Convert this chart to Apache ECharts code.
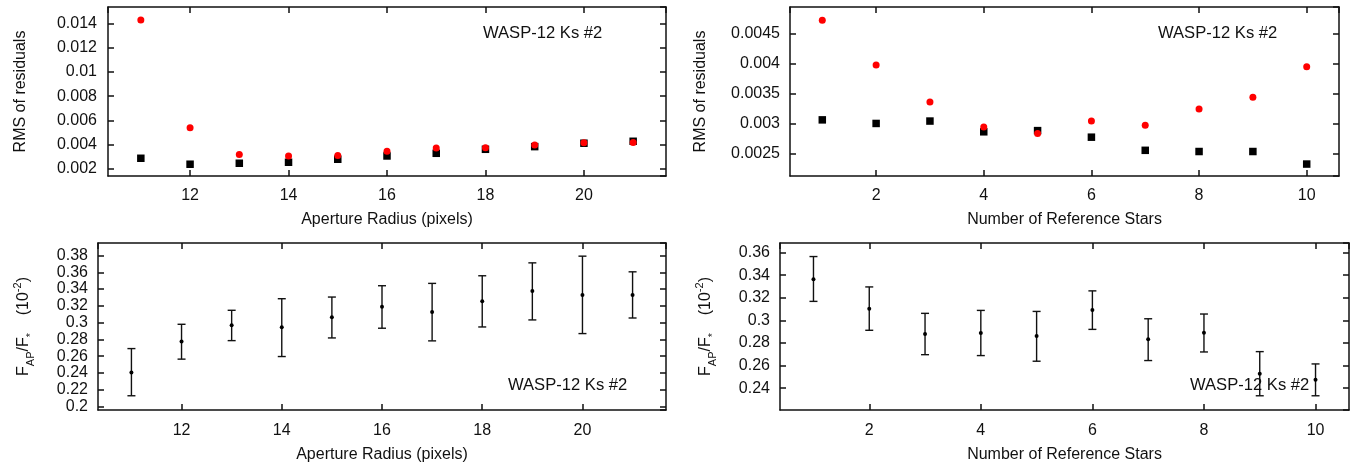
<!DOCTYPE html>
<html>
<head>
<meta charset="utf-8">
<script src="https://cdn.jsdelivr.net/npm/echarts@6/dist/echarts.min.js"></script>
<style>
html,body{margin:0;padding:0;background:#fff;}
#c{width:1351px;height:465px;}
</style>
</head>
<body>
<div id="c"></div>
<script>
// ---- data ----
var apertureRadius = [11, 12, 13, 14, 15, 16, 17, 18, 19, 20, 21];
var rmsApRed   = [0.01427, 0.0054, 0.0032, 0.00307, 0.0031, 0.00345, 0.00372, 0.00375, 0.00397, 0.00415, 0.00417];
var rmsApBlack = [0.00288, 0.00239, 0.00247, 0.00255, 0.0028, 0.00307, 0.00329, 0.00362, 0.00384, 0.00412, 0.00428];

var refStars = [1, 2, 3, 4, 5, 6, 7, 8, 9, 10];
var rmsRefRed   = [0.00473, 0.00398, 0.00336, 0.00294, 0.00283, 0.00304, 0.00297, 0.00324, 0.00344, 0.00395];
var rmsRefBlack = [0.00306, 0.0030, 0.00304, 0.00286, 0.00288, 0.00277, 0.00255, 0.00253, 0.00253, 0.00232];

var fluxAp     = [0.2405, 0.2773, 0.2968, 0.2945, 0.3064, 0.319, 0.3127, 0.3254, 0.3377, 0.3329, 0.3329];
var fluxApLow  = [0.2127, 0.2564, 0.2785, 0.2595, 0.2817, 0.2933, 0.2782, 0.2948, 0.3032, 0.2869, 0.3055];
var fluxApHigh = [0.269, 0.298, 0.3147, 0.3285, 0.3305, 0.344, 0.3468, 0.3559, 0.3713, 0.3793, 0.3606];

var fluxRef     = [0.3364, 0.3102, 0.2879, 0.2888, 0.2861, 0.3091, 0.2832, 0.289, 0.2526, 0.2473];
var fluxRefLow  = [0.3168, 0.2912, 0.2696, 0.2688, 0.2638, 0.292, 0.2644, 0.272, 0.2332, 0.2332];
var fluxRefHigh = [0.3565, 0.3296, 0.3062, 0.3088, 0.3079, 0.3261, 0.3014, 0.3056, 0.2723, 0.2614];

var xTitleAp = 'Aperture Radius (pixels)';
var xTitleRef = 'Number of Reference Stars';
var yTitleRms = 'RMS of residuals';
var panelLabel = 'WASP-12 Ks #2';

// ---- chart ----
var FONT = '"Liberation Sans", Arial, Helvetica, sans-serif';
var TXT = '#111';
var chart = echarts.init(document.getElementById('c'), null, {renderer: 'canvas'});

function zip(xs, ys) { return xs.map(function (x, i) { return [x, ys[i]]; }); }
function zipErr(xs, c, lo, hi) { return xs.map(function (x, i) { return [x, c[i], lo[i], hi[i]]; }); }

var lineStyle = {color: '#111', width: 1.5};

function xAxisPair(grid, min, max, split, name, gap, margin) {
  return [{
    gridIndex: grid, type: 'value', position: 'bottom', min: min, max: max, splitNumber: split,
    axisLine: {show: true, onZero: false, lineStyle: lineStyle},
    axisTick: {show: true, inside: true, length: 6, lineStyle: lineStyle},
    axisLabel: {show: true, margin: margin, color: TXT, fontSize: 16, fontFamily: FONT, showMinLabel: false, showMaxLabel: false},
    splitLine: {show: false},
    name: name, nameLocation: 'middle', nameGap: gap,
    nameTextStyle: {color: TXT, fontSize: 16, fontFamily: FONT}
  }, {
    gridIndex: grid, type: 'value', position: 'top', min: min, max: max, splitNumber: split,
    axisLine: {show: true, onZero: false, lineStyle: lineStyle},
    axisTick: {show: true, inside: true, length: 6, lineStyle: lineStyle},
    axisLabel: {show: false},
    splitLine: {show: false}
  }];
}

function yAxisPair(grid, min, max, split, name, gap, rich, margin) {
  var left = {
    gridIndex: grid, type: 'value', position: 'left', min: min, max: max, splitNumber: split,
    axisLine: {show: true, onZero: false, lineStyle: lineStyle},
    axisTick: {show: true, inside: true, length: 6, lineStyle: lineStyle},
    axisLabel: {show: true, margin: margin, color: TXT, fontSize: 16, fontFamily: FONT, showMinLabel: false, showMaxLabel: false},
    splitLine: {show: false},
    name: name, nameLocation: 'middle', nameGap: gap, nameRotate: 90,
    nameTextStyle: {color: TXT, fontSize: 16, fontFamily: FONT}
  };
  if (rich) left.nameTextStyle.rich = rich;
  return [left, {
    gridIndex: grid, type: 'value', position: 'right', min: min, max: max, splitNumber: split,
    axisLine: {show: true, onZero: false, lineStyle: lineStyle},
    axisTick: {show: true, inside: true, length: 6, lineStyle: lineStyle},
    axisLabel: {show: false},
    splitLine: {show: false}
  }];
}

var fluxRich = {
  n: {fontSize: 16, fontFamily: FONT, color: TXT, lineHeight: 24, verticalAlign: 'middle'},
  sub: {fontSize: 11, fontFamily: FONT, color: TXT, lineHeight: 11, verticalAlign: 'bottom'},
  sup: {fontSize: 11, fontFamily: FONT, color: TXT, lineHeight: 11, verticalAlign: 'top'}
};
var fluxName = '{n|F}{sub|AP}{n|/F}{sub|*}{n|    (10}{sup|-2}{n|)}';

var xAxes = [].concat(
  xAxisPair(0, 10.333, 21.667, 6, xTitleAp, 36, 12),
  xAxisPair(1, 0.4, 10.6, 5, xTitleRef, 36, 12),
  xAxisPair(2, 10.333, 21.667, 6, xTitleAp, 37, 13),
  xAxisPair(3, 0.4, 10.6, 5, xTitleRef, 37, 13)
);
var yAxes = [].concat(
  yAxisPair(0, 0.00142, 0.01534, 7, yTitleRms, 79, null, 11),
  yAxisPair(1, 0.00212, 0.00495, 6, yTitleRms, 81, null, 10),
  yAxisPair(2, 0.1957, 0.395, 10, fluxName, 62, fluxRich, 10),
  yAxisPair(3, 0.2206, 0.3685, 7, fluxName, 62, fluxRich, 10)
);

function errRender(params, api) {
  var x = api.value(0);
  var c = api.coord([x, api.value(1)]);
  var lo = api.coord([x, api.value(2)]);
  var hi = api.coord([x, api.value(3)]);
  var hw = 4;
  var st = {stroke: '#111', lineWidth: 1.4};
  return {
    type: 'group',
    children: [
      {type: 'line', shape: {x1: lo[0], y1: lo[1], x2: hi[0], y2: hi[1]}, style: st},
      {type: 'line', shape: {x1: lo[0] - hw, y1: lo[1], x2: lo[0] + hw, y2: lo[1]}, style: st},
      {type: 'line', shape: {x1: hi[0] - hw, y1: hi[1], x2: hi[0] + hw, y2: hi[1]}, style: st},
      {type: 'circle', shape: {cx: c[0], cy: c[1], r: 2}, style: {fill: '#000'}}
    ]
  };
}

function panelText(x, y) {
  return {type: 'text', x: x, y: y, z: 10,
    style: {text: panelLabel, fill: TXT, font: '16.6px ' + FONT, align: 'left', verticalAlign: 'middle'}};
}

var option = {
  animation: false,
  backgroundColor: '#fff',
  grid: [
    {left: 108, top: 7, width: 558, height: 169, outerBoundsMode: 'none'},
    {left: 790, top: 7, width: 549, height: 169, outerBoundsMode: 'none'},
    {left: 98, top: 243, width: 568, height: 167, outerBoundsMode: 'none'},
    {left: 780, top: 243, width: 569, height: 167, outerBoundsMode: 'none'}
  ],
  xAxis: xAxes,
  yAxis: yAxes,
  graphic: [
    panelText(483, 33),
    panelText(1158, 33),
    panelText(508, 385),
    panelText(1190, 385)
  ],
  series: [
    {type: 'scatter', xAxisIndex: 0, yAxisIndex: 0, symbol: 'rect', symbolSize: 7.5,
      itemStyle: {color: '#000', opacity: 1}, data: zip(apertureRadius, rmsApBlack), z: 2},
    {type: 'scatter', xAxisIndex: 0, yAxisIndex: 0, symbol: 'circle', symbolSize: 7,
      itemStyle: {color: '#ff0000', opacity: 1}, data: zip(apertureRadius, rmsApRed), z: 3},
    {type: 'scatter', xAxisIndex: 2, yAxisIndex: 2, symbol: 'rect', symbolSize: 7.5,
      itemStyle: {color: '#000', opacity: 1}, data: zip(refStars, rmsRefBlack), z: 2},
    {type: 'scatter', xAxisIndex: 2, yAxisIndex: 2, symbol: 'circle', symbolSize: 7,
      itemStyle: {color: '#ff0000', opacity: 1}, data: zip(refStars, rmsRefRed), z: 3},
    {type: 'custom', xAxisIndex: 4, yAxisIndex: 4, renderItem: errRender,
      data: zipErr(apertureRadius, fluxAp, fluxApLow, fluxApHigh), z: 3},
    {type: 'custom', xAxisIndex: 6, yAxisIndex: 6, renderItem: errRender,
      data: zipErr(refStars, fluxRef, fluxRefLow, fluxRefHigh), z: 3}
  ]
};
chart.setOption(option);
</script>
</body>
</html>
